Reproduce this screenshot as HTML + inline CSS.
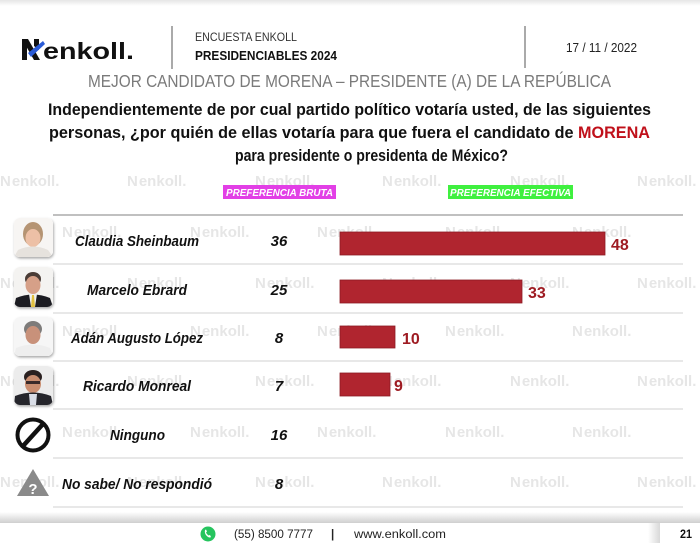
<!DOCTYPE html>
<html><head><meta charset="utf-8">
<style>
html,body{margin:0;padding:0;background:#fff;}
svg{display:block;}
text{font-family:"Liberation Sans",Arial,sans-serif;}
</style></head>
<body>
<svg width="700" height="543" viewBox="0 0 700 543" xmlns="http://www.w3.org/2000/svg">
<defs>
<linearGradient id="topg" x1="0" y1="0" x2="0" y2="1"><stop offset="0" stop-color="#e6e6e6"/><stop offset="1" stop-color="#ffffff"/></linearGradient>
<linearGradient id="footg" x1="0" y1="0" x2="0" y2="1"><stop offset="0" stop-color="#ffffff"/><stop offset="1" stop-color="#cfcfcf"/></linearGradient>
<linearGradient id="pgg" x1="0" y1="0" x2="1" y2="0"><stop offset="0" stop-color="#ffffff"/><stop offset="1" stop-color="#d8d8d8"/></linearGradient>
<filter id="sh" x="-20%" y="-20%" width="150%" height="150%"><feDropShadow dx="0.8" dy="1.5" stdDeviation="1.3" flood-color="#000" flood-opacity="0.35"/></filter>
<clipPath id="c1"><rect x="14" y="218" width="39" height="39" rx="6"/></clipPath>
<clipPath id="c2"><rect x="14" y="267" width="39" height="40" rx="6"/></clipPath>
<clipPath id="c3"><rect x="14" y="317" width="39" height="39" rx="6"/></clipPath>
<clipPath id="c4"><rect x="14" y="366" width="39" height="39" rx="6"/></clipPath>
</defs>

<rect x="0" y="0" width="700" height="543" fill="#fff"/>
<rect x="0" y="0" width="700" height="6" fill="url(#topg)"/>

<!-- watermarks -->
<g fill="#e6e6e6" font-weight="bold" font-size="15">
<text x="0" y="186">N<tspan dx="1">enkoll.</tspan></text>
<text x="127" y="186">N<tspan dx="1">enkoll.</tspan></text>
<text x="255" y="186">N<tspan dx="1">enkoll.</tspan></text>
<text x="382" y="186">N<tspan dx="1">enkoll.</tspan></text>
<text x="510" y="186">N<tspan dx="1">enkoll.</tspan></text>
<text x="637" y="186">N<tspan dx="1">enkoll.</tspan></text>

<text x="62" y="237">N<tspan dx="1">enkoll.</tspan></text>
<text x="190" y="237">N<tspan dx="1">enkoll.</tspan></text>
<text x="317" y="237">N<tspan dx="1">enkoll.</tspan></text>
<text x="445" y="237">N<tspan dx="1">enkoll.</tspan></text>
<text x="572" y="237">N<tspan dx="1">enkoll.</tspan></text>

<text x="0" y="288">N<tspan dx="1">enkoll.</tspan></text>
<text x="127" y="288">N<tspan dx="1">enkoll.</tspan></text>
<text x="255" y="288">N<tspan dx="1">enkoll.</tspan></text>
<text x="382" y="288">N<tspan dx="1">enkoll.</tspan></text>
<text x="510" y="288">N<tspan dx="1">enkoll.</tspan></text>
<text x="637" y="288">N<tspan dx="1">enkoll.</tspan></text>

<text x="62" y="336">N<tspan dx="1">enkoll.</tspan></text>
<text x="190" y="336">N<tspan dx="1">enkoll.</tspan></text>
<text x="317" y="336">N<tspan dx="1">enkoll.</tspan></text>
<text x="445" y="336">N<tspan dx="1">enkoll.</tspan></text>
<text x="572" y="336">N<tspan dx="1">enkoll.</tspan></text>

<text x="0" y="386">N<tspan dx="1">enkoll.</tspan></text>
<text x="127" y="386">N<tspan dx="1">enkoll.</tspan></text>
<text x="255" y="386">N<tspan dx="1">enkoll.</tspan></text>
<text x="382" y="386">N<tspan dx="1">enkoll.</tspan></text>
<text x="510" y="386">N<tspan dx="1">enkoll.</tspan></text>
<text x="637" y="386">N<tspan dx="1">enkoll.</tspan></text>

<text x="62" y="437">N<tspan dx="1">enkoll.</tspan></text>
<text x="190" y="437">N<tspan dx="1">enkoll.</tspan></text>
<text x="317" y="437">N<tspan dx="1">enkoll.</tspan></text>
<text x="445" y="437">N<tspan dx="1">enkoll.</tspan></text>
<text x="572" y="437">N<tspan dx="1">enkoll.</tspan></text>

<text x="0" y="487">N<tspan dx="1">enkoll.</tspan></text>
<text x="127" y="487">N<tspan dx="1">enkoll.</tspan></text>
<text x="255" y="487">N<tspan dx="1">enkoll.</tspan></text>
<text x="382" y="487">N<tspan dx="1">enkoll.</tspan></text>
<text x="510" y="487">N<tspan dx="1">enkoll.</tspan></text>
<text x="637" y="487">N<tspan dx="1">enkoll.</tspan></text>
</g>

<!-- header -->
<g>
  <polygon points="22,39 27,39 27,60 22,60" fill="#111"/>
  <polygon points="22,39 28,39 40,60 34,60" fill="#111"/>
  <polygon points="34,39 39,39 39,50 34,46" fill="#111"/>
  <polygon points="28,53 43,41 45,44 31,57" fill="#2a5bd7"/>
  <text x="43" y="59" font-size="23" font-weight="bold" fill="#111" textLength="91" lengthAdjust="spacingAndGlyphs">enkoll.</text>
</g>
<line x1="172" y1="26" x2="172" y2="69" stroke="#555" stroke-width="1"/>
<text x="195" y="41" font-size="12" fill="#333" textLength="102" lengthAdjust="spacingAndGlyphs">ENCUESTA ENKOLL</text>
<text x="195" y="60" font-size="12.5" font-weight="bold" fill="#111" textLength="142" lengthAdjust="spacingAndGlyphs">PRESIDENCIABLES 2024</text>
<line x1="525" y1="26" x2="525" y2="68" stroke="#555" stroke-width="1"/>
<text x="566" y="52" font-size="13" fill="#222" textLength="71" lengthAdjust="spacingAndGlyphs">17 / 11 / 2022</text>

<text x="88" y="87" font-size="17.5" fill="#7a7a7a" textLength="523" lengthAdjust="spacingAndGlyphs">MEJOR CANDIDATO DE MORENA – PRESIDENTE (A) DE LA REPÚBLICA</text>

<g font-size="17" font-weight="bold" fill="#111">
<text x="48" y="115" textLength="603" lengthAdjust="spacingAndGlyphs">Independientemente de por cual partido político votaría usted, de las siguientes</text>
<text x="49" y="138" textLength="601" lengthAdjust="spacingAndGlyphs">personas, ¿por quién de ellas votaría para que fuera el candidato de <tspan fill="#c0101a">MORENA</tspan></text>
<text x="235" y="161" textLength="273" lengthAdjust="spacingAndGlyphs">para presidente o presidenta de México?</text>
</g>

<!-- badges -->
<rect x="223" y="185" width="113" height="14" fill="#e23fe6"/>
<text x="226" y="196" font-size="10.5" font-weight="bold" font-style="italic" fill="#fff" textLength="107" lengthAdjust="spacingAndGlyphs">PREFERENCIA BRUTA</text>
<rect x="448" y="185" width="125" height="14" fill="#3ff03f"/>
<text x="450" y="196" font-size="10.5" font-weight="bold" font-style="italic" fill="#fff" textLength="121" lengthAdjust="spacingAndGlyphs">PREFERENCIA EFECTIVA</text>

<!-- table lines -->
<line x1="53" y1="215" x2="683" y2="215" stroke="#9a9a9a" stroke-width="1.2"/>
<g stroke="#d2d2d2" stroke-width="1">
<line x1="53" y1="264" x2="683" y2="264"/>
<line x1="53" y1="313" x2="683" y2="313"/>
<line x1="53" y1="361" x2="683" y2="361"/>
<line x1="53" y1="409" x2="683" y2="409"/>
<line x1="53" y1="458" x2="683" y2="458"/>
<line x1="53" y1="507" x2="683" y2="507"/>
</g>

<!-- photos -->
<rect x="14" y="218" width="39" height="39" rx="6" fill="#fff" filter="url(#sh)"/>
<g clip-path="url(#c1)">
  <rect x="14" y="218" width="39" height="39" fill="#f7f5f3"/>
  <ellipse cx="33" cy="234" rx="10" ry="12" fill="#b59473"/>
  <ellipse cx="33" cy="238" rx="7.5" ry="9" fill="#edc0a6"/>
  <path d="M14,257 L18,250 Q33,243 48,250 L53,257 Z" fill="#e6e2dd"/>
</g>
<rect x="14" y="267" width="39" height="40" rx="6" fill="#fff" filter="url(#sh)"/>
<g clip-path="url(#c2)">
  <rect x="14" y="267" width="39" height="40" fill="#f4f3f1"/>
  <ellipse cx="33" cy="279" rx="8" ry="7" fill="#4a3c36"/>
  <ellipse cx="33" cy="285" rx="7.5" ry="9" fill="#d6a088"/>
  <path d="M14,307 L16,298 Q33,291 50,298 L53,307 Z" fill="#1c1c22"/>
  <path d="M29,294 L37,294 L35,307 L31,307 Z" fill="#f0f0f0"/>
  <path d="M32,295 L34,295 L35,307 L31,307 Z" fill="#e1c040"/>
</g>
<rect x="14" y="317" width="39" height="39" rx="6" fill="#fff" filter="url(#sh)"/>
<g clip-path="url(#c3)">
  <rect x="14" y="317" width="39" height="39" fill="#f6f6f6"/>
  <ellipse cx="33" cy="329" rx="9" ry="8" fill="#7d7b7a"/>
  <ellipse cx="33" cy="335" rx="7.5" ry="9" fill="#c8917a"/>
  <path d="M14,356 L16,348 Q33,341 50,348 L53,356 Z" fill="#eeeeee"/>
</g>
<rect x="14" y="366" width="39" height="39" rx="6" fill="#fff" filter="url(#sh)"/>
<g clip-path="url(#c4)">
  <rect x="14" y="366" width="39" height="39" fill="#ececec"/>
  <ellipse cx="33" cy="377" rx="9" ry="7" fill="#2a2020"/>
  <ellipse cx="33" cy="384" rx="8" ry="9" fill="#c98d70"/>
  <rect x="26" y="381" width="14" height="3" fill="#3a2a2a"/>
  <path d="M14,405 L15,396 Q33,389 51,396 L53,405 Z" fill="#26262c"/>
  <path d="M29,394 L37,394 L36,405 L30,405 Z" fill="#d9dde6"/>
</g>

<!-- ninguno icon -->
<circle cx="33" cy="435" r="15.5" fill="none" stroke="#111" stroke-width="4"/>
<line x1="43" y1="424" x2="23" y2="446" stroke="#111" stroke-width="4.5"/>

<!-- no sabe icon -->
<polygon points="33,469 49,496 17,496" fill="#8a8a8a"/>
<text x="33" y="494" font-size="15" font-weight="bold" fill="#fff" text-anchor="middle">?</text>

<!-- names -->
<g font-size="15" font-weight="bold" font-style="italic" fill="#111">
<text x="75" y="246" textLength="124" lengthAdjust="spacingAndGlyphs">Claudia Sheinbaum</text>
<text x="87" y="295" textLength="100" lengthAdjust="spacingAndGlyphs">Marcelo Ebrard</text>
<text x="71" y="343" textLength="132" lengthAdjust="spacingAndGlyphs">Adán Augusto López</text>
<text x="83" y="391" textLength="108" lengthAdjust="spacingAndGlyphs">Ricardo Monreal</text>
<text x="110" y="440" textLength="55" lengthAdjust="spacingAndGlyphs">Ninguno</text>
<text x="62" y="489" textLength="150" lengthAdjust="spacingAndGlyphs">No sabe/ No respondió</text>
</g>
<g font-size="15" font-weight="bold" font-style="italic" fill="#111" text-anchor="middle">
<text x="279" y="246">36</text>
<text x="279" y="295">25</text>
<text x="279" y="343">8</text>
<text x="279" y="391">7</text>
<text x="279" y="440">16</text>
<text x="279" y="489">8</text>
</g>

<!-- bars -->
<g fill="#b0252f" stroke="#8c1b24" stroke-width="0.8">
<rect x="340" y="232" width="265" height="23"/>
<rect x="340" y="280" width="182" height="23"/>
<rect x="340" y="326" width="55" height="22"/>
<rect x="340" y="373" width="50" height="23"/>
</g>
<g font-size="16" font-weight="bold" fill="#9e1b22">
<text x="611" y="250">48</text>
<text x="528" y="298">33</text>
<text x="402" y="344">10</text>
<text x="394" y="391">9</text>
</g>

<!-- footer -->
<rect x="0" y="512" width="700" height="11" fill="url(#footg)"/>
<rect x="0" y="523" width="700" height="20" fill="#fff"/>
<rect x="648" y="523" width="12" height="20" fill="url(#pgg)"/>
<circle cx="208" cy="534" r="7.5" fill="#25c45e"/>
<path d="M205,530 q-1,4 3,7 q2,1 3,0 l-1,-2 l-1.5,0.5 q-2,-1.5 -2.5,-3 l1,-1 l-1,-2 z" fill="#fff"/>
<text x="234" y="538" font-size="11.5" fill="#222" textLength="79" lengthAdjust="spacingAndGlyphs">(55) 8500 7777</text>
<text x="331" y="538" font-size="11.5" font-weight="bold" fill="#222">|</text>
<text x="354" y="538" font-size="11.5" fill="#222" textLength="92" lengthAdjust="spacingAndGlyphs">www.enkoll.com</text>
<text x="680" y="538" font-size="11.5" font-weight="bold" fill="#111" textLength="12" lengthAdjust="spacingAndGlyphs">21</text>
</svg>
</body></html>
